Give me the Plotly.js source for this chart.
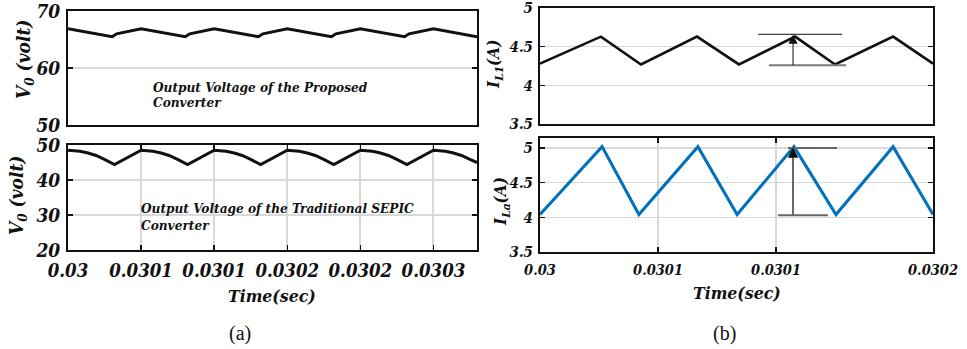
<!DOCTYPE html>
<html>
<head>
<meta charset="utf-8">
<script src="https://cdn.plot.ly/plotly-3.0.1.min.js"></script>
<style>
  html, body { margin: 0; padding: 0; background: #ffffff; }
  #chart { width: 967px; height: 349px; }
</style>
</head>
<body>
<div id="chart"></div>
<script>
// ---- (a) output voltage, proposed converter ----
const tProposed = [0.0300000, 0.0300302, 0.0300333, 0.0300500, 0.0300802, 0.0300833,
                   0.0301000, 0.0301302, 0.0301333, 0.0301500, 0.0301802, 0.0301833,
                   0.0302000, 0.0302302, 0.0302333, 0.0302500, 0.0302798];
const vProposed = [66.9, 65.5, 66.0, 66.9, 65.5, 66.0,
                   66.9, 65.5, 66.0, 66.9, 65.5, 66.0,
                   66.9, 65.5, 66.0, 66.9, 65.5];

// ---- (a) output voltage, traditional SEPIC ----
const tSepic = [0.0300000, 0.0300034, 0.0300082, 0.0300137, 0.0300192, 0.0300253, 0.0300318,
                0.0300500, 0.0300534, 0.0300582, 0.0300637, 0.0300692, 0.0300753, 0.0300818,
                0.0301000, 0.0301034, 0.0301082, 0.0301137, 0.0301192, 0.0301253, 0.0301318,
                0.0301500, 0.0301534, 0.0301582, 0.0301637, 0.0301692, 0.0301753, 0.0301818,
                0.0302000, 0.0302034, 0.0302082, 0.0302137, 0.0302192, 0.0302253, 0.0302318,
                0.0302500, 0.0302534, 0.0302582, 0.0302637, 0.0302692, 0.0302753, 0.0302798];
const vSepic = [48.5, 48.45, 48.2, 47.7, 47.0, 45.8, 44.4,
                48.5, 48.45, 48.2, 47.7, 47.0, 45.8, 44.4,
                48.5, 48.45, 48.2, 47.7, 47.0, 45.8, 44.4,
                48.5, 48.45, 48.2, 47.7, 47.0, 45.8, 44.4,
                48.5, 48.45, 48.2, 47.7, 47.0, 45.8, 44.4,
                48.5, 48.45, 48.2, 47.7, 47.0, 45.8, 45.0];

// ---- (b) inductor currents ----
const tL1 = [0.0300000, 0.0300258, 0.0300428, 0.0300665, 0.0300843, 0.0301081, 0.0301250, 0.0301496, 0.0301665];
const iL1 = [4.28, 4.63, 4.27, 4.63, 4.27, 4.63, 4.27, 4.63, 4.28];
const tLa = [0.0300000, 0.0300263, 0.0300419, 0.0300669, 0.0300835, 0.0301076, 0.0301254, 0.0301496, 0.0301665];
const iLa = [4.04, 5.02, 4.04, 5.02, 4.04, 5.02, 4.04, 5.02, 4.04];

// ripple markers: [start, end] times of the bracket lines, their levels and the arrow time
const rippleL1HiT = [0.0300924, 0.0301280];
const rippleL1LoT = [0.0300970, 0.0301297];
const rippleL1Lev = [4.26, 4.66];
const rippleL1ArrowT = 0.0301072;
const rippleLaHiT = [0.0301051, 0.0301258];
const rippleLaLoT = [0.0301008, 0.0301220];
const rippleLaLev = [4.03, 5.0];
const rippleLaArrowT = 0.0301072;

// tick positions and labels
const tickA = [0.03, 0.03005, 0.0301, 0.03015, 0.0302, 0.03025];
const tickAText = ['0.03', '0.0301', '0.0301', '0.0302', '0.0302', '0.0303'];
const tickB = [0.03, 0.03005, 0.0301, 0.0301665];
const tickBText = ['0.03', '0.0301', '0.0301', '0.0302'];
const rangeA = [0.03, 0.0302798];
const rangeB = [0.03, 0.0301665];

const SERIF = '"DejaVu Serif Condensed", "DejaVu Serif", serif';
const CAPTION = '"Liberation Serif", "Times New Roman", serif';
const W = 967, H = 349;
const px = v => v / W;          // pixel column -> paper x
const py = v => 1 - v / H;      // pixel row -> paper y
const GRID = '#d9d9d9';

function bi(size, color) {
  return { family: SERIF, size: size, color: color || '#111', weight: 700, style: 'italic' };
}

function xAxis(dom, anchor, range, opts) {
  return Object.assign({
    domain: dom, anchor: anchor, range: range, fixedrange: true,
    showline: true, linecolor: '#111', linewidth: 2, mirror: 'ticks',
    ticks: '', showticklabels: false, showgrid: false, zeroline: false,
    ticklabeloverflow: 'allow'
  }, opts || {});
}
function yAxis(dom, anchor, range, tickvals, size) {
  return {
    domain: dom, anchor: anchor, range: range, fixedrange: true,
    showline: true, linecolor: '#111', linewidth: 2, mirror: 'ticks',
    ticks: 'inside', ticklen: 5, tickwidth: 1.5, tickcolor: '#111',
    tickmode: 'array', tickvals: tickvals, tickfont: bi(size),
    ticklabelstandoff: 2, ticklabeloverflow: 'allow',
    showgrid: true, gridcolor: GRID, gridwidth: 1.5, zeroline: false
  };
}

const leftDom = [px(68), px(477)];
const rightDom = [px(540), px(933)];

const traces = [
  { x: tProposed, y: vProposed, xaxis: 'x', yaxis: 'y', type: 'scatter', mode: 'lines',
    line: { color: '#111', width: 3 }, hoverinfo: 'skip' },
  { x: tSepic, y: vSepic, xaxis: 'x2', yaxis: 'y2', type: 'scatter', mode: 'lines',
    line: { color: '#111', width: 3 }, hoverinfo: 'skip' },
  { x: tL1, y: iL1, xaxis: 'x3', yaxis: 'y3', type: 'scatter', mode: 'lines',
    line: { color: '#111', width: 2.6 }, hoverinfo: 'skip' },
  { x: tLa, y: iLa, xaxis: 'x4', yaxis: 'y4', type: 'scatter', mode: 'lines',
    line: { color: '#0072BD', width: 3 }, hoverinfo: 'skip' }
];

const shapes = [
  { type: 'line', xref: 'x3', yref: 'y3', x0: rippleL1HiT[0], x1: rippleL1HiT[1],
    y0: rippleL1Lev[1], y1: rippleL1Lev[1], line: { color: '#111', width: 1 } },
  { type: 'line', xref: 'x3', yref: 'y3', x0: rippleL1LoT[0], x1: rippleL1LoT[1],
    y0: rippleL1Lev[0], y1: rippleL1Lev[0], line: { color: '#7a7a7a', width: 2 } },
  { type: 'line', xref: 'x3', yref: 'y3', x0: rippleL1ArrowT, x1: rippleL1ArrowT,
    y0: rippleL1Lev[0], y1: rippleL1Lev[1] - 0.03, line: { color: '#111', width: 1 } },
  { type: 'line', xref: 'x4', yref: 'y4', x0: rippleLaHiT[0], x1: rippleLaHiT[1],
    y0: rippleLaLev[1], y1: rippleLaLev[1], line: { color: '#666', width: 2 } },
  { type: 'line', xref: 'x4', yref: 'y4', x0: rippleLaLoT[0], x1: rippleLaLoT[1],
    y0: rippleLaLev[0], y1: rippleLaLev[0], line: { color: '#666', width: 2 } },
  { type: 'line', xref: 'x4', yref: 'y4', x0: rippleLaArrowT, x1: rippleLaArrowT,
    y0: rippleLaLev[0], y1: rippleLaLev[1] - 0.03, line: { color: '#666', width: 2 } }
];

function label(text, x, y, font, opts) {
  return Object.assign({ text: text, xref: 'paper', yref: 'paper', x: px(x), y: py(y),
    xanchor: 'center', yanchor: 'middle', showarrow: false, font: font }, opts || {});
}

const annotations = [
  label('V<sub>0</sub> (volt)', 25, 60, bi(19), { textangle: -90 }),
  label('V<sub>0</sub> (volt)', 17, 196, bi(19), { textangle: -90 }),
  label('I<sub>L1</sub>(A)', 495, 65, bi(17), { textangle: -90 }),
  label('I<sub>La</sub>(A)', 502, 202, bi(17), { textangle: -90 }),
  label('Time(sec)', 272, 296, bi(17.5)),
  label('Time(sec)', 737, 293, bi(17.5)),
  label('Output Voltage of the Proposed', 151, 87, bi(13.5), { xanchor: 'left' }),
  label('Converter', 151, 102, bi(13.5), { xanchor: 'left' }),
  label('Output Voltage of the Traditional SEPIC', 139, 208, bi(13.5), { xanchor: 'left' }),
  label('Converter', 139, 225, bi(13.5), { xanchor: 'left' }),
  label('(a)', 240, 333, { family: CAPTION, size: 20, color: '#111' }),
  label('(b)', 724, 333, { family: CAPTION, size: 20, color: '#111' }),
  // arrow heads of the ripple markers
  { xref: 'x3', yref: 'y3', axref: 'x3', ayref: 'y3', x: rippleL1ArrowT, y: rippleL1Lev[1] - 0.005,
    ax: rippleL1ArrowT, ay: rippleL1Lev[1] - 0.12, text: '', showarrow: true,
    arrowhead: 2, arrowsize: 1.3, arrowwidth: 1.4, arrowcolor: '#111', standoff: 0 },
  { xref: 'x4', yref: 'y4', axref: 'x4', ayref: 'y4', x: rippleLaArrowT, y: rippleLaLev[1] + 0.01,
    ax: rippleLaArrowT, ay: rippleLaLev[1] - 0.12, text: '', showarrow: true,
    arrowhead: 2, arrowsize: 1.3, arrowwidth: 1.6, arrowcolor: '#111', standoff: 0 }
];

const layout = {
  width: W, height: H,
  margin: { l: 0, r: 0, t: 0, b: 0 },
  paper_bgcolor: '#ffffff', plot_bgcolor: '#ffffff',
  showlegend: false,
  xaxis: xAxis(leftDom, 'y', rangeA),
  yaxis: yAxis([py(125), py(11)], 'x', [50, 70], [50, 60, 70], 19),
  xaxis2: xAxis(leftDom, 'y2', rangeA, {
    ticks: 'inside', ticklen: 5, tickwidth: 1.5, tickcolor: '#111',
    tickmode: 'array', tickvals: tickA, ticktext: tickAText, showticklabels: true,
    tickfont: bi(18.5), ticklabelstandoff: 3,
    showgrid: true, gridcolor: GRID, gridwidth: 2
  }),
  yaxis2: yAxis([py(250), py(145)], 'x2', [20, 50], [20, 30, 40, 50], 19),
  xaxis3: xAxis(rightDom, 'y3', rangeB),
  yaxis3: yAxis([py(124), py(8)], 'x3', [3.5, 5], [3.5, 4, 4.5, 5], 15),
  xaxis4: xAxis(rightDom, 'y4', rangeB, {
    ticks: 'inside', ticklen: 5, tickwidth: 1.5, tickcolor: '#111',
    tickmode: 'array', tickvals: tickB, ticktext: tickBText, showticklabels: true,
    tickfont: bi(14.5), ticklabelstandoff: 4,
    showgrid: true, gridcolor: GRID, gridwidth: 2
  }),
  yaxis4: yAxis([py(252), py(138)], 'x4', [3.5, 5.145], [3.5, 4, 4.5, 5], 15),
  shapes: shapes,
  annotations: annotations
};

Plotly.newPlot('chart', traces, layout, { staticPlot: true, displayModeBar: false });
</script>
</body>
</html>
